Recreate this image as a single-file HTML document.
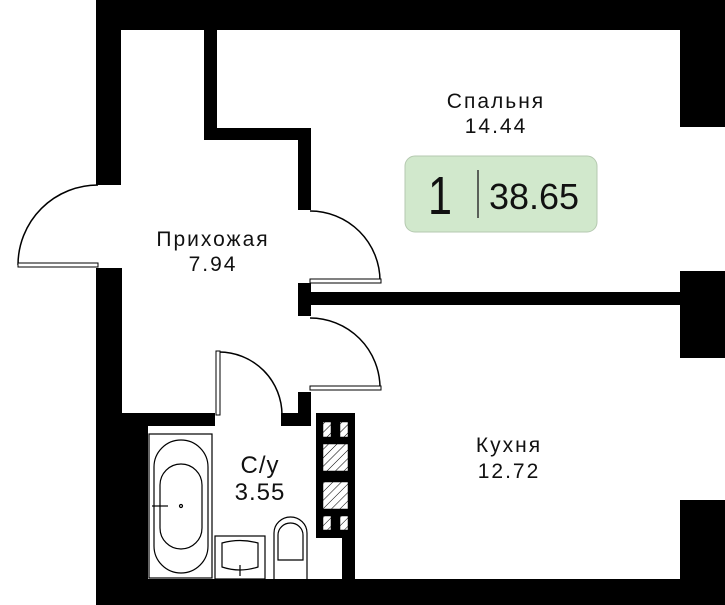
<!DOCTYPE html>
<html><head><meta charset="utf-8"><style>
html,body{margin:0;padding:0;background:#fff;width:725px;height:605px;overflow:hidden}
text{font-family:"Liberation Sans",sans-serif;fill:#111}
</style></head><body>
<svg width="725" height="605" viewBox="0 0 725 605" xmlns="http://www.w3.org/2000/svg">
<g fill="#000">
<rect x="96" y="0" width="629" height="30"/>
<rect x="96" y="0" width="25" height="185"/>
<rect x="96" y="268" width="26" height="337"/>
<rect x="96" y="413" width="52" height="192"/>
<rect x="96" y="413" width="119" height="13"/>
<rect x="204" y="29" width="13" height="111"/>
<rect x="204" y="128" width="107" height="12"/>
<rect x="298" y="128" width="13" height="82"/>
<rect x="298" y="283" width="13" height="33"/>
<rect x="311" y="292" width="414" height="13"/>
<rect x="298" y="392" width="13" height="34"/>
<rect x="281" y="413" width="30" height="13"/>
<rect x="316" y="413" width="39" height="125"/>
<rect x="342" y="413" width="13" height="192"/>
<rect x="96" y="579" width="629" height="26"/>
<rect x="680" y="0" width="45" height="127"/>
<rect x="680" y="271" width="45" height="87"/>
<rect x="680" y="500" width="45" height="105"/>
</g>
<defs><pattern id="h" width="6" height="6" patternUnits="userSpaceOnUse" patternTransform="rotate(45)"><rect width="6" height="6" fill="#fff"/><line x1="0" y1="0" x2="0" y2="6" stroke="#000" stroke-width="1"/></pattern></defs>
<g fill="url(#h)" stroke="#000" stroke-width="0.5">
<rect x="323" y="422" width="8" height="15"/><rect x="340" y="422" width="8" height="15"/>
<rect x="323" y="444" width="25" height="27"/>
<rect x="323" y="482" width="25" height="27"/>
<rect x="323" y="516" width="8" height="14"/><rect x="340" y="516" width="8" height="14"/>
</g>
<g fill="none" stroke="#000" stroke-width="1.5">
<path d="M98 185 A80 80 0 0 0 18 265"/>
<rect x="18" y="263" width="80" height="4" fill="#fff" stroke-width="1"/>
<path d="M310 211 A70 70 0 0 1 380 281"/>
<rect x="310" y="279" width="71" height="4" fill="#fff" stroke-width="1"/>
<path d="M310 318 A70 70 0 0 1 380 388"/>
<rect x="310" y="386" width="71" height="4" fill="#fff" stroke-width="1"/>
<path d="M219 352 A63 63 0 0 1 282 415"/>
<rect x="216" y="351" width="4" height="64" fill="#fff" stroke-width="1"/>
</g>
<g fill="none" stroke="#000" stroke-width="1.2">
<rect x="149" y="434" width="63" height="144"/>
<rect x="154" y="440" width="54" height="133" rx="27"/>
<rect x="160" y="464" width="42" height="85" rx="21"/>
<line x1="152" y1="506" x2="168" y2="506"/>
<circle cx="181" cy="506" r="1.5"/>
<rect x="215" y="536" width="50" height="43"/>
<path d="M222 543 Q240 538 258 543 L258 567 Q240 573 222 567 Z"/>
<line x1="240" y1="565" x2="240" y2="576"/>
<path d="M274 579 V533 A16.5 16 0 0 1 307 533 V579"/>
<path d="M278 560 V535 A12.5 12 0 0 1 303 535 V560 Z"/>
</g>
<rect x="405" y="156" width="192" height="76" rx="10" fill="#d1e8cc" stroke="#b5c9b0" stroke-width="1"/>
<text x="440" y="214" font-size="54" text-anchor="middle" transform="translate(440 0) scale(0.8 1) translate(-440 0)">1</text>
<line x1="478" y1="170" x2="478" y2="218" stroke="#333" stroke-width="1.5"/>
<text x="534" y="209" font-size="36" text-anchor="middle">38.65</text>
<g font-size="21" text-anchor="middle" letter-spacing="2">
<text x="496" y="108">Спальня</text>
<text x="496" y="133">14.44</text>
<text x="213" y="246">Прихожая</text>
<text x="213" y="271">7.94</text>
<text x="509" y="452">Кухня</text>
<text x="509" y="478">12.72</text>
<text x="260" y="473" font-size="24" letter-spacing="1">С/у</text>
<text x="260" y="500" font-size="24" letter-spacing="1">3.55</text>
</g>
</svg>
</body></html>
